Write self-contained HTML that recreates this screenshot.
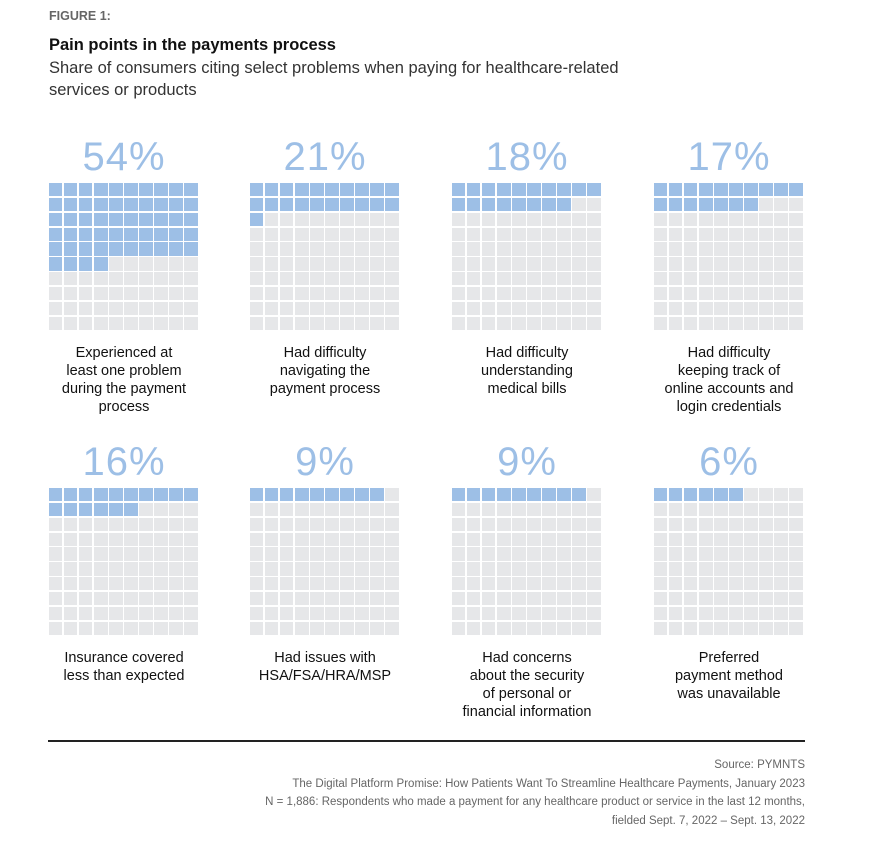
<!DOCTYPE html>
<html><head><meta charset="utf-8"><style>
body{margin:0;width:892px;height:842px;background:#fff;font-family:"Liberation Sans",sans-serif;position:relative;overflow:hidden}
.a{position:absolute;white-space:nowrap}
.pct{position:absolute;width:200px;text-align:center;font-size:40px;color:#9dbfe6;line-height:40px;letter-spacing:1px}
.lab{position:absolute;width:200px;text-align:center;font-size:14.5px;line-height:18px;color:#111}
.c{position:absolute;width:13.4px;height:13.4px}
</style></head><body>
<div class="a" style="left:49px;top:9px;font-size:12.5px;font-weight:bold;color:#666">FIGURE 1:</div>
<div class="a" style="left:49px;top:36px;font-size:16.5px;font-weight:bold;color:#111">Pain points in the payments process</div>
<div class="a" style="left:49px;top:57px;font-size:16.5px;color:#333;line-height:22px">Share of consumers citing select problems when paying for healthcare-related<br>services or products</div>
<div id="g"></div>
<div class="a" style="left:48px;top:740px;width:757px;height:1.5px;background:#222"></div>
<div class="a" style="right:87px;top:756px;font-size:11.5px;color:#666;text-align:right;line-height:18.5px">Source: PYMNTS<br>The Digital Platform Promise: How Patients Want To Streamline Healthcare Payments, January 2023<br>N = 1,886: Respondents who made a payment for any healthcare product or service in the last 12 months,<br>fielded Sept. 7, 2022 – Sept. 13, 2022</div>
<script>
var d=[[54,"Experienced at<br>least one problem<br>during the payment<br>process"],[21,"Had difficulty<br>navigating the<br>payment process"],[18,"Had difficulty<br>understanding<br>medical bills"],[17,"Had difficulty<br>keeping track of<br>online accounts and<br>login credentials"],[16,"Insurance covered<br>less than expected"],[9,"Had issues with<br>HSA/FSA/HRA/MSP"],[9,"Had concerns<br>about the security<br>of personal or<br>financial information"],[6,"Preferred<br>payment method<br>was unavailable"]];
var xs=[49,250,452,654],h="";
d.forEach(function(v,i){var x=xs[i%4],y=i<4?183:488;
h+='<div class="pct" style="left:'+(x-25)+'px;top:'+(y-46)+'px">'+v[0]+'%</div>';
for(var k=0;k<100;k++){var r=Math.floor(k/10),c=k%10;
h+='<div class="c" style="left:'+(x+c*15.05)+'px;top:'+(y+r*14.85)+'px;background:'+(k<v[0]?'#9dbfe6':'#e6e7e9')+'"></div>';}
h+='<div class="lab" style="left:'+(x-25)+'px;top:'+(y+161)+'px">'+v[1]+'</div>';});
document.getElementById('g').innerHTML=h;
</script>
</body></html>
